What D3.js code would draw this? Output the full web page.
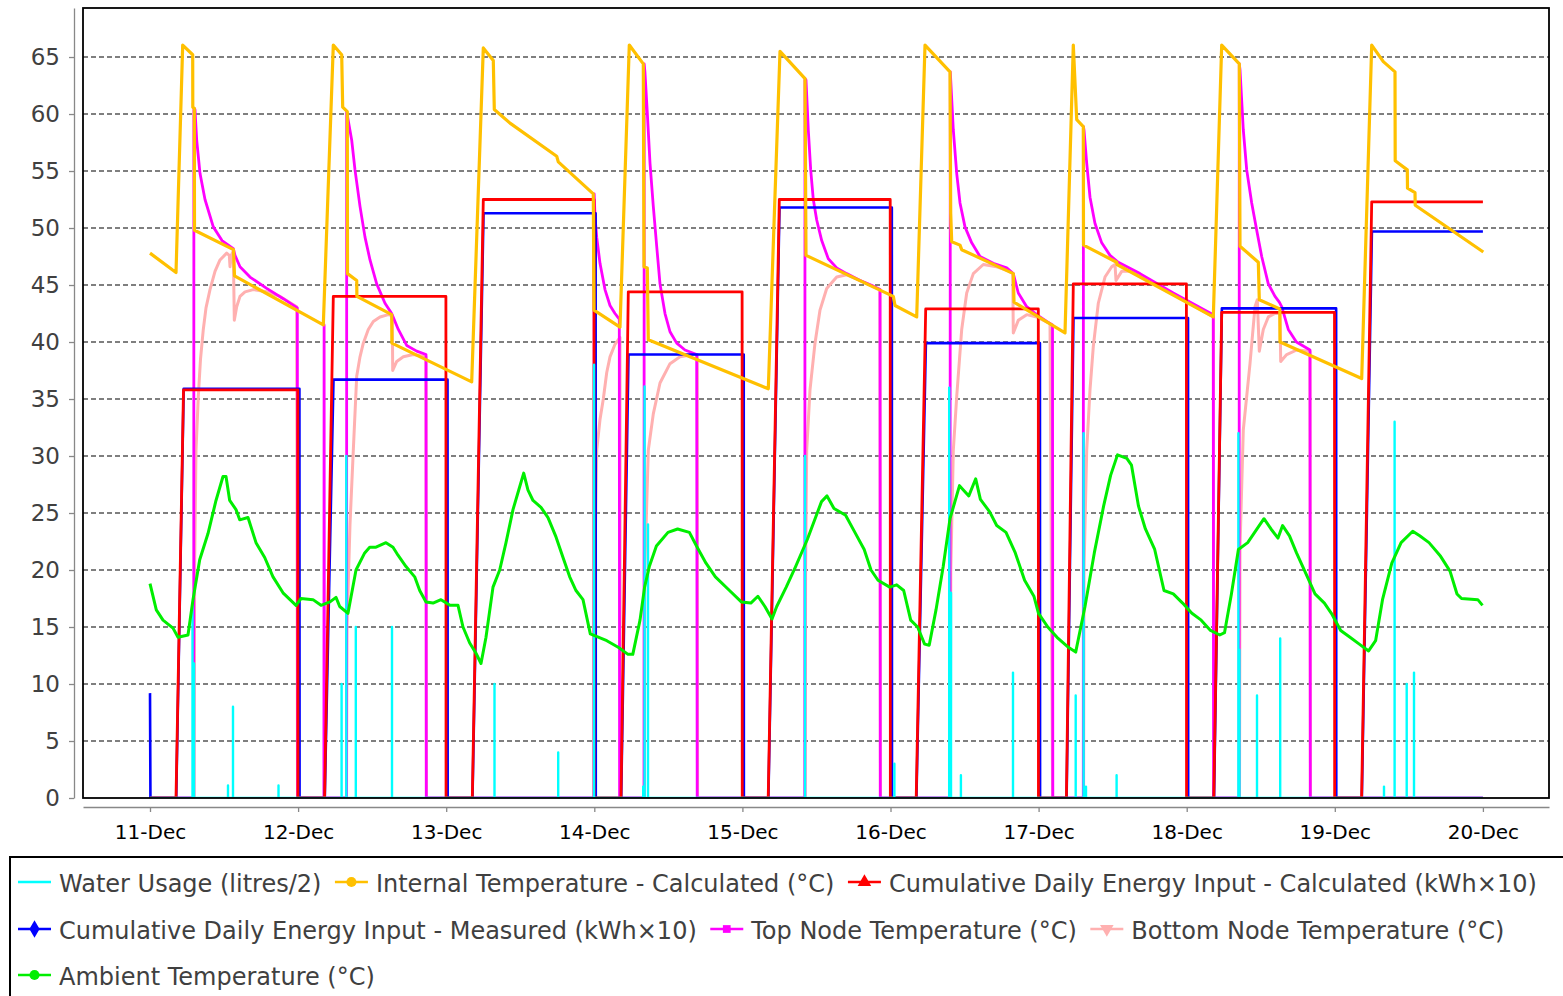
<!DOCTYPE html>
<html><head><meta charset="utf-8">
<script src="https://cdn.jsdelivr.net/npm/d3@7"></script>
<style>
html,body{margin:0;padding:0;background:#fff;}
svg{display:block;font-family:"DejaVu Sans",sans-serif;}
</style></head><body>
<svg id="chart" width="1563" height="996"></svg>
<script>
// ---------------- DATA (time in days after 11-Dec 00:00, value) ----------------
const seriesNames = [
  "Water Usage (litres/2)",
  "Internal Temperature - Calculated (°C)",
  "Cumulative Daily Energy Input - Calculated (kWh×10)",
  "Cumulative Daily Energy Input - Measured (kWh×10)",
  "Top Node Temperature (°C)",
  "Bottom Node Temperature (°C)",
  "Ambient Temperature (°C)"
];
const dayLabels = ["11-Dec","12-Dec","13-Dec","14-Dec","15-Dec","16-Dec","17-Dec","18-Dec","19-Dec","20-Dec"];
const yTickValues = [0,5,10,15,20,25,30,35,40,45,50,55,60,65];

const waterUsage = [[0.2870,16.9],[0.2971,11.8],[0.5267,1.1],[0.5604,8.0],[0.8677,1.1],[1.2937,10.0],[1.3255,30.0],[1.3896,15.0],[1.6340,15.0],[2.3261,10.0],[2.7563,4.0],[2.9980,38.0],[3.3302,1.0],[3.3396,36.1],[3.3626,24.0],[4.4227,30.0],[5.0263,3.0],[5.3963,36.0],[5.4085,18.0],[5.4754,2.0],[5.8271,11.0],[6.2505,9.0],[6.3038,32.0],[6.3200,1.0],[6.5267,2.0],[7.3491,32.0],[7.3565,13.0],[7.4747,9.0],[7.6313,14.0],[8.3322,1.0],[8.4038,33.0],[8.4855,10.0],[8.5348,11.0]];

const internalTemp = [[0.000,47.8],[0.1756,46.1],[0.2208,66.05],[0.2883,65.2],[0.2890,60.6],[0.2991,60.5],[0.3005,49.8],[0.5638,48.1],[0.5706,45.8],[1.1702,41.5],[1.2377,66.05],[1.2944,65.2],[1.3011,60.6],[1.3322,60.2],[1.3336,46.0],[1.3957,45.4],[1.3970,44.0],[1.6320,42.4],[1.6334,39.9],[2.1722,36.5],[2.2505,65.8],[2.3180,64.7],[2.3248,60.4],[2.4308,59.2],[2.7461,56.3],[2.7569,55.8],[2.9932,53.0],[2.9980,42.8],[3.1735,41.3],[3.2363,66.05],[3.3309,64.4],[3.3356,46.6],[3.3579,46.5],[3.3646,40.2],[4.1749,35.9],[4.2539,65.5],[4.4227,63.1],[4.4294,47.6],[5.0189,44.0],[5.0304,43.2],[5.1769,42.2],[5.2330,66.05],[5.4018,63.7],[5.4065,51.3],[5.4132,48.8],[5.4693,48.5],[5.4808,48.1],[5.8292,46.0],[5.8339,43.5],[6.1783,40.8],[6.2343,66.05],[6.2573,59.5],[6.3018,58.9],[6.3032,48.5],[6.5273,47.0],[6.5294,46.8],[7.1796,42.2],[7.2363,66.05],[7.3552,64.4],[7.3599,48.4],[7.4835,47.0],[7.4902,43.7],[7.6286,42.9],[7.6300,40.0],[8.1816,36.8],[8.2492,66.05],[8.3275,64.6],[8.4065,63.7],[8.4078,55.9],[8.4895,55.1],[8.4909,53.5],[8.5415,53.1],[8.5429,52.0],[9.0027,47.9]];

const energyCalculated = [[0,0],[0.1756,0],[0.2262,35.8],[0.998,35.8],[0.999,0],[1.1789,0],[1.2377,44.0],[1.998,44.0],[1.999,0],[2.1763,0],[2.2505,52.5],[2.998,52.5],[2.999,0],[3.1803,0],[3.2296,44.4],[3.998,44.4],[3.999,0],[4.1742,0],[4.2492,52.5],[4.998,52.5],[4.999,0],[5.1735,0],[5.2377,42.9],[5.998,42.9],[5.999,0],[6.1877,0],[6.2343,45.1],[6.998,45.1],[6.999,0],[7.1830,0],[7.2363,42.6],[7.998,42.6],[7.999,0],[8.1810,0],[8.2492,52.3],[9.0,52.3]];

const energyMeasured = [[0,9.2],[0.003,0],[0.1770,0],[0.2275,35.9],[1.009,35.9],[1.010,0],[1.1800,0],[1.2390,36.7],[2.009,36.7],[2.010,0],[2.1775,0],[2.2520,51.3],[3.009,51.3],[3.010,0],[3.1815,0],[3.2310,38.9],[4.009,38.9],[4.010,0],[4.1755,0],[4.2505,51.8],[5.009,51.8],[5.010,0],[5.1750,0],[5.2390,39.9],[6.009,39.9],[6.010,0],[6.1890,0],[6.2355,42.1],[7.009,42.1],[7.010,0],[7.1845,0],[7.2375,42.95],[8.009,42.95],[8.010,0],[8.1825,0],[8.2505,49.7],[9.0,49.7]];

const topNode = [[0,0],[0.2951,0],[0.2964,60.5],[0.3038,60.4],[0.3153,57.7],[0.3376,54.8],[0.3714,52.5],[0.4274,50.1],[0.4862,48.9],[0.5625,48.2],[0.5739,47.6],[0.6077,46.6],[0.6752,45.7],[0.7880,44.7],[0.9001,43.8],[0.9946,43.0],[0.9973,0],[1.1742,0],[1.1756,41.5],[1.1776,0],[1.3275,0],[1.3282,60.2],[1.3620,57.7],[1.3842,55.1],[1.4180,51.9],[1.4517,49.2],[1.4855,47.2],[1.5307,45.1],[1.5868,43.4],[1.6320,42.5],[1.6766,41.1],[1.7333,39.7],[1.8008,39.2],[1.8636,38.9],[1.8656,0],[2.9980,0],[2.9993,53.0],[3.0047,51.0],[3.0162,49.2],[3.0385,46.9],[3.0722,44.6],[3.1060,43.2],[3.1398,42.5],[3.1688,42.0],[3.1708,0],[3.3356,0],[3.3370,64.4],[3.3423,63.6],[3.3579,60.1],[3.3761,55.7],[3.3984,51.9],[3.4213,48.4],[3.4436,45.1],[3.4774,42.5],[3.5111,40.9],[3.5564,39.9],[3.6124,39.3],[3.6914,38.9],[3.6948,0],[4.4213,0],[4.4227,63.1],[4.4294,63.0],[4.4450,58.6],[4.4612,55.1],[4.4787,52.5],[4.5017,50.7],[4.5355,48.9],[4.5800,47.3],[4.6367,46.5],[4.7043,46.0],[4.7940,45.4],[4.8838,44.9],[4.9291,44.6],[4.9311,0],[5.4018,0],[5.4038,63.7],[5.4241,58.6],[5.4470,54.8],[5.4693,52.2],[5.5030,50.1],[5.5483,48.7],[5.6043,47.5],[5.6942,46.9],[5.7846,46.5],[5.8292,46.0],[5.8629,44.3],[5.9197,43.1],[5.9872,42.4],[6.0547,41.8],[6.0939,41.5],[6.0959,0],[6.3018,0],[6.3025,58.9],[6.3066,58.6],[6.3248,55.7],[6.3471,52.7],[6.3808,50.4],[6.4261,48.7],[6.4821,47.6],[6.5382,47.0],[6.6847,46.0],[6.9095,44.3],[7.1796,42.4],[7.1816,0],[7.3538,0],[7.3552,64.4],[7.3599,63.9],[7.3822,58.6],[7.4051,55.1],[7.4389,52.2],[7.4727,49.8],[7.5064,47.5],[7.5510,45.1],[7.5962,44.0],[7.6253,43.5],[7.6415,43.1],[7.6860,41.1],[7.7407,40.0],[7.8325,39.3],[7.8346,0],[9.0,0]];

const bottomNode = [[0,0],[0.2984,0],[0.3011,20],[0.3106,30.5],[0.3261,35.2],[0.3410,38.5],[0.3599,41.1],[0.3781,43.0],[0.4051,44.6],[0.4389,46.2],[0.4726,47.2],[0.5179,47.8],[0.5355,47.6],[0.5402,46.6],[0.5490,47.6],[0.5625,48.0],[0.5693,41.9],[0.5854,43.1],[0.6077,44.0],[0.6415,44.4],[0.6975,44.6],[0.7880,44.4],[0.8778,44.0],[0.9906,43.1],[0.9959,0],[1.3268,0],[1.3302,15],[1.3504,24],[1.3727,30.5],[1.3957,37.0],[1.4180,38.7],[1.4403,39.9],[1.4740,41.1],[1.5078,41.8],[1.5530,42.2],[1.6091,42.4],[1.6361,42.3],[1.6388,37.5],[1.6658,38.3],[1.7104,38.7],[1.7779,38.9],[1.8636,38.7],[1.8663,0],[3.0007,0],[3.0034,20],[3.0162,30.5],[3.0385,33.2],[3.0608,35.0],[3.0837,37.3],[3.1060,38.7],[3.1398,39.8],[3.1735,40.4],[3.1756,0],[3.3383,0],[3.3410,20],[3.3646,30.5],[3.3984,33.7],[3.4436,36.4],[3.5111,38.1],[3.5787,38.7],[3.6685,38.9],[3.6955,38.9],[3.6975,0],[4.4240,0],[4.4267,20],[4.4342,30.5],[4.4565,35.8],[4.4902,39.9],[4.5240,42.8],[4.5692,44.7],[4.6367,45.7],[4.7043,45.9],[4.7940,45.4],[4.9291,44.6],[4.9318,0],[5.4045,0],[5.4072,20],[5.4241,30.5],[5.4470,35.2],[5.4808,41.1],[5.5145,44.3],[5.5591,46.0],[5.6266,46.8],[5.7171,46.6],[5.8069,46.2],[5.8251,46.0],[5.8292,40.8],[5.8629,41.9],[5.9197,42.4],[5.9872,42.2],[6.0770,41.6],[6.0945,0],[6.3038,0],[6.3066,20],[6.3248,30.5],[6.3471,35.8],[6.3693,39.6],[6.4031,43.4],[6.4483,45.7],[6.4936,46.6],[6.5159,46.8],[6.5226,45.4],[6.5611,46.2],[6.6394,46.2],[6.7522,45.3],[6.9095,44.2],[7.1796,42.2],[7.1823,0],[7.3565,0],[7.3599,22],[7.3822,32.3],[7.4274,38.1],[7.4612,43.1],[7.4767,43.7],[7.4902,39.2],[7.5172,41.1],[7.5510,42.2],[7.5962,42.5],[7.6300,42.5],[7.6347,38.3],[7.6752,38.9],[7.7427,39.3],[7.8325,39.2],[7.8352,0],[9.0,0]];

const ambientTemp = [[0.000,18.8],[0.0425,16.5],[0.0878,15.6],[0.1553,14.9],[0.1891,14.1],[0.2566,14.3],[0.2903,17.4],[0.3356,20.9],[0.3916,23.2],[0.4456,26.1],[0.4929,28.2],[0.5132,28.2],[0.5381,26.1],[0.5807,25.3],[0.6057,24.4],[0.6617,24.6],[0.7157,22.4],[0.7745,21.1],[0.8305,19.4],[0.8980,18.0],[0.9858,16.9],[1.0196,17.5],[1.1006,17.4],[1.1546,16.9],[1.2154,17.2],[1.2559,17.6],[1.2809,16.8],[1.3369,16.2],[1.3910,20.0],[1.4497,21.5],[1.4835,22.0],[1.5260,22.0],[1.5935,22.4],[1.6408,22.0],[1.6745,21.3],[1.7286,20.3],[1.7873,19.4],[1.8211,18.2],[1.8636,17.2],[1.9109,17.1],[1.9649,17.4],[2.0257,16.9],[2.0797,16.9],[2.1134,15.0],[2.1587,13.6],[2.2012,12.7],[2.2350,11.8],[2.2687,14.1],[2.3160,18.5],[2.3613,20.0],[2.4038,22.4],[2.4510,25.3],[2.4963,27.3],[2.5233,28.5],[2.5523,27.0],[2.5861,26.1],[2.6401,25.5],[2.6874,24.6],[2.7414,22.9],[2.7887,21.1],[2.8339,19.4],[2.8764,18.2],[2.9237,17.4],[2.9730,14.4],[3.0844,13.8],[3.1641,13.2],[3.2275,12.6],[3.2599,12.6],[3.3086,15.6],[3.3396,18.5],[3.3714,20.3],[3.4193,22.1],[3.4976,23.3],[3.5625,23.6],[3.6421,23.3],[3.6901,22.1],[3.7542,20.6],[3.8177,19.4],[3.9129,18.2],[3.9926,17.2],[4.0567,17.1],[4.1047,17.7],[4.1519,16.8],[4.1999,15.7],[4.2316,16.8],[4.2958,18.5],[4.3592,20.3],[4.4389,22.7],[4.5341,26.0],[4.5713,26.5],[4.6185,25.4],[4.6968,24.8],[4.7596,23.3],[4.8224,21.8],[4.8683,20.0],[4.9156,19.1],[4.9946,18.5],[5.0419,18.7],[5.0891,18.2],[5.1364,15.6],[5.1830,15.0],[5.2303,13.5],[5.2613,13.4],[5.3072,16.5],[5.3558,20.3],[5.4018,24.5],[5.4659,27.4],[5.5287,26.5],[5.5753,28.0],[5.6070,26.2],[5.6698,25.1],[5.7171,23.9],[5.7799,23.3],[5.8427,21.5],[5.9055,19.1],[5.9683,17.7],[5.9993,16.2],[6.0621,15.0],[6.1242,14.1],[6.2032,13.2],[6.2505,12.8],[6.3133,16.8],[6.3761,21.5],[6.4389,25.6],[6.4862,28.3],[6.5328,30.1],[6.5956,29.8],[6.6273,29.2],[6.6746,25.6],[6.7212,23.6],[6.7839,21.8],[6.8467,18.2],[6.9095,17.9],[6.9723,17.1],[7.0351,16.2],[7.0979,15.6],[7.1607,14.7],[7.2235,14.3],[7.2553,14.5],[7.3019,17.9],[7.3491,21.8],[7.4119,22.4],[7.4747,23.6],[7.5219,24.5],[7.5692,23.6],[7.6165,22.8],[7.6475,23.9],[7.6941,23.0],[7.7414,21.5],[7.8042,19.7],[7.8663,17.9],[7.9298,17.1],[7.9770,16.2],[8.0398,14.7],[8.1026,14.1],[8.1654,13.5],[8.2282,12.9],[8.2755,13.8],[8.3221,17.4],[8.3849,20.6],[8.4477,22.4],[8.5260,23.4],[8.5733,23.0],[8.6361,22.4],[8.7144,21.2],[8.7779,19.9],[8.8251,17.9],[8.8555,17.5],[8.9656,17.4],[8.9973,16.9]];

// ---------------- CHART ----------------
const svg = d3.select('#chart');
const day0 = new Date(2012, 11, 11);
const toDate = d => new Date(day0.getTime() + d * 864e5);

const plot = {left: 83, right: 1549, top: 8, bottom: 798};
const x = d3.scaleTime().domain([toDate(-0.4524), toDate(9.4463)]).range([plot.left, plot.right]);
const y = d3.scaleLinear().domain([0, 69.3]).range([plot.bottom, plot.top]);

svg.append('defs').append('clipPath').attr('id', 'plotClip').append('rect')
  .attr('x', plot.left).attr('y', plot.top - 10)
  .attr('width', plot.right - plot.left).attr('height', plot.bottom - plot.top + 10);

// gridlines
svg.append('g').selectAll('line').data(yTickValues.filter(v => v > 0)).join('line')
  .attr('x1', plot.left).attr('x2', plot.right)
  .attr('y1', d => y(d)).attr('y2', d => y(d))
  .attr('stroke', '#555').attr('stroke-width', 1.4).attr('stroke-dasharray', '5,3');

// y axis
const yAxis = svg.append('g').attr('transform', 'translate(74,0)')
  .call(d3.axisLeft(y).tickValues(yTickValues).tickSize(5).tickSizeOuter(0).tickPadding(9));
yAxis.select('.domain').attr('stroke', '#888').attr('stroke-width', 1.3);
yAxis.selectAll('.tick line').attr('stroke', '#888').attr('stroke-width', 1.3);
yAxis.selectAll('.tick text').attr('font-size', 23).attr('fill', '#404040')
  .attr('font-family', '"DejaVu Sans",sans-serif');

// x axis
const tickDates = dayLabels.map((_, i) => toDate(i));
const xAxis = svg.append('g').attr('transform', 'translate(0,807)')
  .call(d3.axisBottom(x).tickValues(tickDates).tickSize(5).tickSizeOuter(0).tickPadding(13)
    .tickFormat((d, i) => dayLabels[i]));
xAxis.select('.domain').attr('stroke', '#888').attr('stroke-width', 1.3);
xAxis.selectAll('.tick line').attr('stroke', '#888').attr('stroke-width', 1.3);
xAxis.selectAll('.tick text').attr('font-size', 20).attr('fill', '#000')
  .attr('font-family', '"DejaVu Sans",sans-serif');

const line = d3.line().x(d => x(toDate(d[0]))).y(d => y(d[1]));
const g = svg.append('g').attr('clip-path', 'url(#plotClip)');
function drawLine(data, color, width) {
  g.append('path').datum(data).attr('d', line).attr('fill', 'none')
    .attr('stroke', color).attr('stroke-width', width)
    .attr('stroke-linejoin', 'round').attr('stroke-linecap', 'butt');
}
const colors = {water: '#00ffff', internal: '#ffc000', calc: '#ff0000', meas: '#0000ff', top: '#ff00ff', bottom: '#ffb0b0', ambient: '#00ee00'};

drawLine(bottomNode, colors.bottom, 3);
drawLine(topNode, colors.top, 2.8);
drawLine(energyMeasured, colors.meas, 2.6);
drawLine(energyCalculated, colors.calc, 2.8);
// water usage spikes
const waterSeries = [[0, 0]];
waterUsage.forEach(d => { waterSeries.push([d[0], 0], d, [d[0], 0]); });
waterSeries.push([9, 0]);
drawLine(waterSeries, colors.water, 2.4);
drawLine(internalTemp, colors.internal, 3.2);
drawLine(ambientTemp, colors.ambient, 3);

// frame on top
svg.append('rect').attr('x', plot.left).attr('y', plot.top)
  .attr('width', plot.right - plot.left).attr('height', plot.bottom - plot.top)
  .attr('fill', 'none').attr('stroke', '#000').attr('stroke-width', 1.8);

// legend
svg.append('rect').attr('x', 10).attr('y', 857).attr('width', 1560).attr('height', 200)
  .attr('fill', '#fff').attr('stroke', '#000').attr('stroke-width', 2);
const legendDefs = [
  {c: colors.water, s: null},
  {c: colors.internal, s: d3.symbolCircle, size: 80},
  {c: colors.calc, s: d3.symbolTriangle, size: 80},
  {c: colors.meas, s: d3.symbolDiamond, size: 90},
  {c: colors.top, s: d3.symbolSquare, size: 60},
  {c: colors.bottom, s: d3.symbolTriangle, size: 80, rot: 180},
  {c: colors.ambient, s: d3.symbolCircle, size: 80}
];
const lg = svg.append('g').attr('font-size', 24).attr('fill', '#404040');
let lx = 18, row = 0;
const rowY = [882, 929, 975];
seriesNames.forEach((name, i) => {
  const t = lg.append('text').text(name).attr('font-family', '"DejaVu Sans",sans-serif');
  const w = t.node().getComputedTextLength();
  if (lx + 41 + w > 1555) { row++; lx = 18; }
  const cy = rowY[row];
  t.attr('x', lx + 41).attr('y', cy + 9.5);
  lg.append('line').attr('x1', lx).attr('x2', lx + 33).attr('y1', cy).attr('y2', cy)
    .attr('stroke', legendDefs[i].c).attr('stroke-width', 2.5);
  if (legendDefs[i].s) {
    lg.append('path').attr('d', d3.symbol(legendDefs[i].s, legendDefs[i].size)())
      .attr('transform', `translate(${lx + 16.5},${cy})` + (legendDefs[i].rot ? ` rotate(${legendDefs[i].rot})` : ''))
      .attr('fill', legendDefs[i].c);
  }
  lx += 41 + w + 13.5;
});
</script>
</body></html>
